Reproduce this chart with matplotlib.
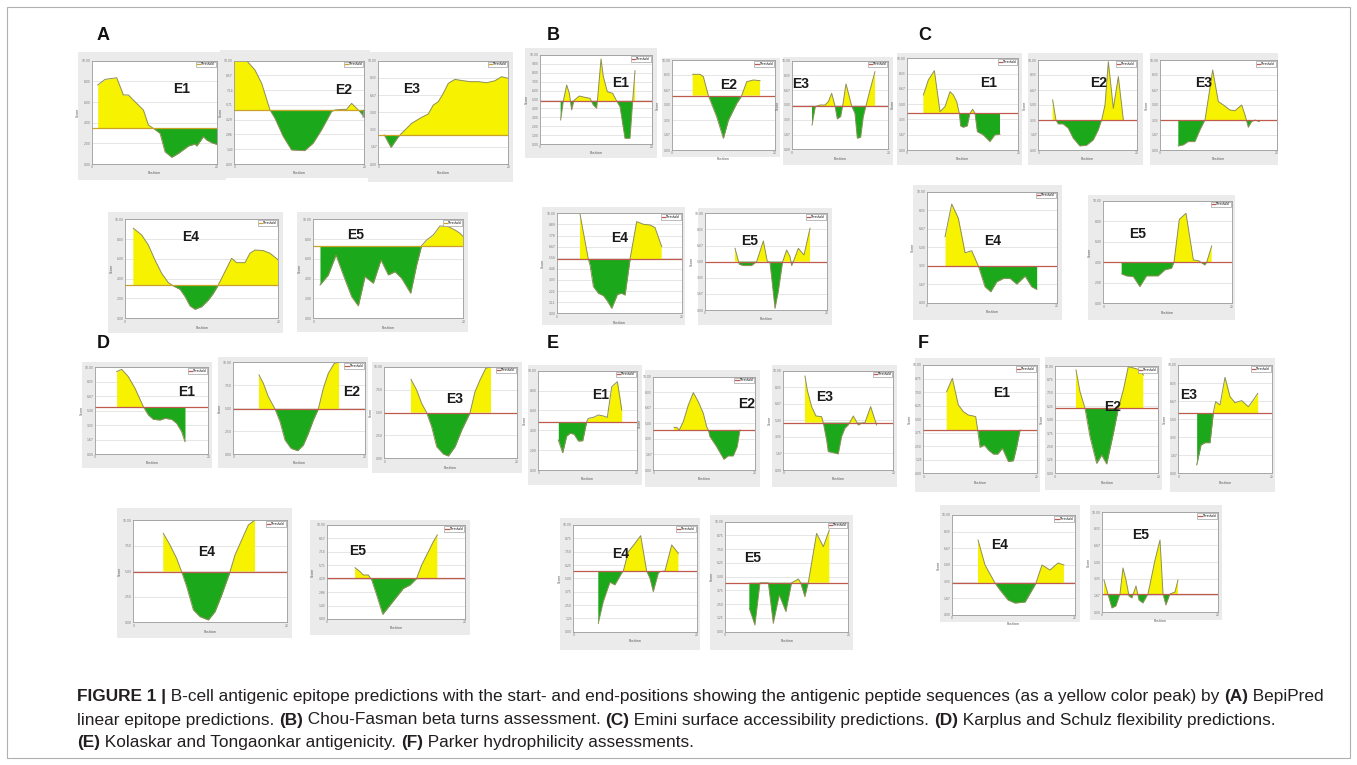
import numpy as np
import matplotlib
matplotlib.use('Agg')
import matplotlib.pyplot as plt
from matplotlib.patches import Rectangle

# Score profiles (position 0-20, score 0-10 plot units)
# A: BepiPred
a1_pos = [0.96, 2.13, 4.0, 5.07, 5.87, 6.93, 8.27, 9.07, 9.87, 10.93, 11.73, 12.8, 13.87, 15.47, 16.53, 16.8, 17.87, 18.4, 19.2, 20.0]
a1_score = [7.65, 8.19, 8.35, 6.68, 6.68, 6.03, 5.23, 3.77, 3.45, 2.97, 1.19, 0.65, 1.03, 1.74, 1.94, 1.74, 2.65, 2.32, 2.06, 1.9]
a1_thr = 3.45
a2_pos = [0, 1.9, 3.18, 4.21, 5.49, 6.26, 7.54, 8.82, 10.87, 12.15, 13.44, 14.97, 15.49, 16.77, 17.28, 18.05, 18.82, 19.33, 19.85]
a2_score = [10, 10, 9.1, 7.81, 5.23, 4.42, 2.65, 1.35, 1.29, 2.0, 3.29, 5.06, 5.23, 5.29, 5.29, 5.87, 5.39, 5.06, 4.65]
a2_thr = 5.23
a3_pos = [0.92, 1.95, 3.08, 3.85, 5.13, 6.67, 7.69, 8.46, 9.23, 10.0, 10.77, 11.79, 13.08, 14.1, 15.38, 16.67, 17.95, 18.97, 20.0]
a3_score = [2.81, 1.61, 2.65, 3.13, 3.94, 4.52, 4.84, 5.71, 6.03, 6.84, 7.81, 8.19, 8.06, 7.97, 7.97, 7.87, 8.06, 8.45, 8.29]
a3_thr = 2.81
a4_pos = [1.09, 2.17, 3.04, 3.91, 4.78, 5.65, 6.3, 7.17, 7.83, 8.48, 9.13, 10.0, 10.87, 11.52, 12.17, 13.04, 13.91, 14.57, 15.65, 16.3, 16.96, 18.04, 18.91, 20.0]
a4_score = [9.09, 8.42, 7.41, 5.89, 4.55, 3.6, 3.27, 2.93, 2.19, 1.25, 0.91, 1.18, 1.85, 2.53, 3.37, 4.71, 6.06, 5.62, 5.62, 6.57, 6.9, 6.84, 6.57, 5.89]
a4_thr = 3.37
a5_pos = [0.89, 2.0, 3.02, 4.0, 5.11, 6.0, 6.89, 8.0, 9.02, 10.0, 10.89, 11.78, 12.98, 13.78, 14.44, 15.11, 16.0, 16.89, 18.0, 18.89, 19.56, 20.0]
a5_score = [3.37, 4.38, 6.4, 4.38, 2.19, 1.25, 4.21, 3.54, 5.89, 4.38, 4.71, 4.04, 2.53, 5.39, 7.34, 7.91, 8.42, 9.33, 9.26, 8.92, 8.59, 8.25]
a5_thr = 7.34

# B: Chou-Fasman
b1_pos = [3.7, 4.18, 4.78, 5.25, 5.67, 6.09, 7.04, 8.06, 8.96, 9.55, 10.15, 10.45, 10.93, 11.34, 12.06, 13.01, 13.73, 14.33, 15.22, 16.12, 16.6, 17.01]
b1_score = [2.7, 4.83, 6.63, 5.69, 3.82, 4.9, 5.39, 5.24, 5.13, 4.38, 4.01, 6.07, 9.55, 7.57, 5.88, 5.69, 4.83, 4.19, 0.64, 0.64, 4.83, 8.24]
b1_thr = 4.83
b2_pos = [4.06, 5.48, 6.13, 7.1, 8.71, 10.0, 10.97, 12.58, 13.55, 14.52, 15.81, 17.1]
b2_score = [8.41, 8.41, 8.15, 6.04, 3.7, 1.3, 3.33, 5.19, 6.04, 7.59, 7.78, 7.7]
b2_thr = 6.04
b3_pos = [4.21, 4.9, 5.86, 6.9, 7.59, 8.28, 8.97, 9.45, 10.14, 10.55, 11.24, 11.93, 12.41, 13.1, 13.59, 14.28, 14.83, 15.38, 16.21, 17.24]
b3_score = [2.74, 4.81, 5.0, 5.0, 5.38, 6.32, 4.89, 3.42, 3.68, 4.89, 7.37, 5.94, 4.89, 4.06, 1.24, 1.35, 3.68, 4.89, 6.69, 8.76]
b3_thr = 4.89
b4_pos = [3.73, 5.07, 5.33, 5.87, 6.67, 7.47, 8.11, 8.8, 9.71, 10.4, 10.93, 11.73, 12.8, 13.87, 14.93, 15.73, 16.8]
b4_score = [9.9, 5.4, 4.83, 2.67, 2.0, 1.77, 1.23, 0.5, 1.9, 2.0, 1.83, 5.4, 9.17, 8.9, 8.83, 8.57, 6.67]
b4_thr = 5.4
b5_pos = [4.93, 5.64, 6.3, 7.67, 8.49, 9.59, 10.25, 10.68, 11.51, 12.05, 12.77, 13.42, 13.97, 14.25, 14.52, 15.34, 16.27, 17.26]
b5_score = [6.38, 4.72, 4.59, 4.59, 5.0, 7.14, 5.0, 4.93, 0.17, 1.9, 5.0, 6.21, 5.52, 4.59, 5.0, 6.38, 5.69, 8.45]
b5_thr = 5.0

# C: Emini
c1_pos = [2.99, 3.88, 4.96, 5.97, 6.87, 7.76, 8.36, 8.96, 9.43, 9.67, 10.15, 10.87, 11.34, 11.82, 12.24, 12.66, 13.73, 14.93, 15.82, 16.72]
c1_score = [6.0, 7.64, 8.65, 4.18, 4.73, 6.36, 6.0, 5.27, 4.0, 2.62, 2.47, 2.62, 4.0, 4.44, 4.0, 2.0, 1.64, 0.91, 1.64, 1.71]
c1_thr = 4.0
c2_pos = [2.92, 3.59, 4.07, 5.08, 6.1, 7.12, 8.47, 9.83, 11.19, 12.2, 12.88, 13.56, 14.24, 15.25, 16.27, 17.29]
c2_score = [5.56, 3.33, 2.89, 2.89, 2.41, 1.3, 0.44, 0.52, 1.11, 2.22, 3.33, 5.0, 9.81, 4.63, 8.15, 3.33]
c2_thr = 3.33
c3_pos = [3.14, 4.0, 4.86, 6.0, 6.86, 7.71, 8.29, 9.03, 10.0, 10.86, 12.0, 12.86, 14.0, 14.57, 15.14, 15.71, 16.29, 17.03]
c3_score = [0.44, 0.56, 0.93, 0.93, 2.22, 3.33, 5.74, 8.89, 5.37, 5.0, 4.44, 4.37, 5.0, 3.89, 2.52, 3.15, 3.33, 3.15]
c3_thr = 3.33
c4_pos = [2.82, 3.85, 4.87, 5.9, 6.92, 7.95, 8.97, 9.85, 10.77, 11.79, 12.82, 13.85, 15.13, 16.15, 16.92]
c4_score = [5.95, 8.89, 7.6, 4.5, 4.68, 3.3, 1.44, 0.99, 1.89, 2.19, 2.19, 1.68, 2.4, 1.44, 1.2]
c4_thr = 3.33
c5_pos = [2.86, 3.64, 4.68, 5.71, 6.75, 8.57, 9.61, 10.65, 11.01, 11.84, 12.88, 14.03, 14.81, 15.84, 16.1, 16.88]
c5_score = [2.86, 2.66, 2.6, 1.62, 2.66, 2.66, 3.25, 3.41, 3.99, 8.18, 8.77, 4.22, 4.16, 3.73, 3.99, 5.58]
c5_thr = 3.99

# D: Karplus & Schulz
d1_pos = [3.82, 4.71, 5.88, 7.06, 8.53, 9.41, 10.29, 11.47, 12.35, 13.53, 14.41, 15.29, 15.88]
d1_score = [9.5, 9.77, 8.92, 7.58, 5.46, 4.5, 4.0, 3.92, 4.12, 4.0, 3.54, 2.58, 1.42]
d1_thr = 5.46
d2_pos = [3.9, 4.56, 5.32, 6.33, 7.09, 7.85, 8.76, 9.77, 10.63, 11.39, 12.15, 12.91, 13.67, 14.43, 15.34, 16.05]
d2_score = [8.62, 7.71, 6.25, 4.91, 3.53, 1.53, 0.62, 0.36, 0.98, 2.25, 3.71, 4.91, 7.16, 8.8, 9.89, 10.0]
d2_thr = 4.91
d3_pos = [4.03, 4.89, 5.64, 6.4, 7.15, 7.91, 8.92, 9.67, 10.68, 11.69, 12.95, 13.7, 14.46, 15.32, 16.12]
d3_score = [8.62, 7.45, 6.0, 4.98, 3.45, 1.27, 0.47, 0.25, 1.27, 3.09, 4.98, 7.27, 8.55, 9.82, 10.0]
d3_thr = 4.98
d4_pos = [3.91, 4.78, 5.65, 6.3, 6.96, 7.83, 8.7, 9.78, 10.65, 11.52, 12.61, 13.26, 14.13, 15.0, 15.87]
d4_score = [8.7, 7.56, 6.25, 4.95, 3.49, 1.21, 0.55, 0.23, 1.04, 2.67, 4.95, 6.58, 8.05, 9.51, 10.0]
d4_thr = 4.95
d5_pos = [4.1, 4.82, 5.3, 6.02, 6.51, 7.23, 8.1, 9.16, 10.12, 11.08, 12.05, 13.01, 13.73, 14.7, 15.42, 16.0]
d5_score = [5.46, 5.04, 4.68, 4.68, 4.15, 2.55, 0.5, 1.49, 2.38, 3.26, 3.62, 4.33, 5.74, 7.16, 8.23, 8.94]
d5_thr = 4.33

# E: Kolaskar & Tongaonkar
e1_pos = [4.07, 4.95, 5.76, 6.44, 7.25, 8.14, 9.02, 9.83, 10.17, 11.19, 12.2, 13.22, 14.03, 14.92, 16.07, 16.61, 16.95]
e1_score = [3.02, 1.74, 3.42, 3.69, 3.62, 2.92, 2.95, 4.87, 5.2, 5.3, 5.54, 5.44, 5.3, 8.39, 8.89, 7.21, 6.04]
e1_thr = 4.87
e2_pos = [4.07, 4.59, 5.11, 5.9, 6.89, 7.87, 8.85, 9.84, 10.49, 10.82, 11.15, 12.46, 13.9, 14.75, 15.74, 16.52, 17.05]
e2_score = [4.57, 4.57, 4.29, 5.18, 6.96, 8.29, 7.32, 6.07, 4.64, 4.29, 3.57, 2.5, 1.14, 1.5, 1.5, 2.5, 4.29]
e2_thr = 4.29
e3_pos = [3.94, 4.36, 5.15, 5.94, 6.97, 7.27, 7.88, 8.18, 9.09, 10.0, 10.61, 11.21, 11.82, 12.73, 13.64, 14.24, 14.85, 15.88, 16.97]
e3_score = [9.46, 8.05, 6.38, 5.44, 5.37, 4.77, 3.02, 1.85, 1.74, 1.61, 3.36, 4.19, 4.53, 5.44, 4.53, 4.7, 4.77, 6.38, 4.53]
e3_thr = 4.77
e4_pos = [4.05, 4.86, 5.95, 6.76, 7.84, 8.11, 8.92, 10.0, 10.92, 11.89, 12.43, 12.97, 13.78, 14.05, 14.86, 15.95, 17.03]
e4_score = [0.78, 2.81, 4.63, 4.38, 5.47, 5.69, 7.5, 8.28, 9.0, 5.69, 5.0, 3.75, 5.47, 5.63, 5.69, 8.13, 7.34]
e4_thr = 5.69
e5_pos = [3.95, 4.86, 5.68, 6.49, 7.03, 7.84, 8.81, 9.89, 10.81, 11.35, 11.89, 12.27, 12.97, 13.51, 14.86, 15.95, 16.92]
e5_score = [2.12, 0.61, 4.45, 4.45, 4.45, 0.76, 3.33, 1.82, 4.45, 4.61, 4.79, 4.45, 3.18, 4.45, 8.94, 7.73, 9.24]
e5_thr = 4.45

# F: Parker
f1_pos = [4.12, 5.12, 6.18, 7.06, 7.94, 8.82, 9.24, 9.59, 10.0, 10.76, 11.47, 12.35, 13.12, 13.94, 15.0, 15.88, 16.47, 17.06]
f1_score = [7.54, 8.77, 6.31, 5.69, 5.38, 5.29, 5.23, 4.0, 2.4, 2.62, 2.15, 1.78, 1.78, 2.31, 1.08, 1.17, 2.46, 4.0]
f1_thr = 4.0
f2_pos = [4.06, 4.84, 5.81, 6.77, 8.06, 9.03, 10.0, 11.29, 12.26, 13.23, 14.19, 15.48, 16.45, 17.1]
f2_score = [9.63, 7.61, 6.06, 3.42, 0.93, 1.71, 0.87, 3.73, 6.06, 7.76, 9.94, 9.78, 9.63, 9.16]
f2_thr = 6.06
f3_pos = [3.93, 4.86, 5.71, 6.79, 7.5, 8.0, 8.93, 10.0, 11.07, 12.14, 13.57, 15.0, 16.07, 17.0]
f3_score = [0.77, 2.62, 2.83, 2.83, 5.6, 6.62, 6.31, 8.86, 7.08, 6.52, 6.71, 6.15, 6.77, 7.38]
f3_thr = 5.6
f4_pos = [4.23, 5.37, 6.99, 7.8, 9.11, 10.24, 11.87, 13.0, 13.66, 14.63, 15.93, 17.24, 18.2]
f4_score = [7.5, 5.0, 3.2, 2.5, 1.5, 1.2, 1.3, 2.5, 3.2, 5.0, 4.5, 5.2, 5.0]
f4_thr = 3.2
f5_pos = [0.34, 1.03, 1.72, 2.41, 3.1, 3.62, 4.14, 4.66, 5.17, 5.86, 6.38, 7.07, 7.93, 9.14, 10.0, 10.52, 11.03, 11.72, 12.59, 13.1]
f5_score = [3.2, 1.8, 0.4, 0.6, 1.8, 4.4, 3.2, 1.6, 1.4, 2.6, 1.2, 0.9, 1.8, 5.2, 7.2, 1.8, 0.7, 1.8, 2.0, 3.2]
f5_thr = 1.8

panel_groups = ['A', 'B', 'C', 'D', 'E', 'F']
panel_labels = ['E1', 'E2', 'E3', 'E4', 'E5']
profiles = [
    (a1_pos, a1_score, a1_thr), (a2_pos, a2_score, a2_thr), (a3_pos, a3_score, a3_thr),
    (a4_pos, a4_score, a4_thr), (a5_pos, a5_score, a5_thr),
    (b1_pos, b1_score, b1_thr), (b2_pos, b2_score, b2_thr), (b3_pos, b3_score, b3_thr),
    (b4_pos, b4_score, b4_thr), (b5_pos, b5_score, b5_thr),
    (c1_pos, c1_score, c1_thr), (c2_pos, c2_score, c2_thr), (c3_pos, c3_score, c3_thr),
    (c4_pos, c4_score, c4_thr), (c5_pos, c5_score, c5_thr),
    (d1_pos, d1_score, d1_thr), (d2_pos, d2_score, d2_thr), (d3_pos, d3_score, d3_thr),
    (d4_pos, d4_score, d4_thr), (d5_pos, d5_score, d5_thr),
    (e1_pos, e1_score, e1_thr), (e2_pos, e2_score, e2_thr), (e3_pos, e3_score, e3_thr),
    (e4_pos, e4_score, e4_thr), (e5_pos, e5_score, e5_thr),
    (f1_pos, f1_score, f1_thr), (f2_pos, f2_score, f2_thr), (f3_pos, f3_score, f3_thr),
    (f4_pos, f4_score, f4_thr), (f5_pos, f5_score, f5_thr),
]

# layout in pixels: grey card (x, y, w, h) and plot box (left, top, right, bottom)
cards = [
    (78, 52, 148, 128), (220, 50, 150, 128), (368, 52, 145, 130), (108, 212, 175, 121), (297, 212, 171, 120),
    (525, 48, 132, 110), (662, 58, 118, 99), (783, 57, 110, 108), (542, 207, 143, 118), (698, 208, 134, 117),
    (897, 53, 125, 112), (1028, 53, 115, 112), (1150, 53, 128, 112), (913, 185, 149, 135), (1088, 195, 147, 125),
    (82, 362, 130, 106), (218, 357, 150, 111), (372, 362, 150, 111), (117, 508, 175, 130), (310, 520, 160, 115),
    (528, 365, 114, 120), (645, 370, 115, 117), (772, 365, 125, 122), (560, 518, 140, 132), (710, 515, 143, 135),
    (915, 358, 125, 134), (1045, 357, 117, 133), (1170, 358, 105, 134), (940, 505, 140, 117), (1090, 505, 132, 115),
]
boxes = [
    (91.7, 60.7, 216.7, 164), (234.3, 60.7, 364.3, 164), (378.3, 60.7, 508.3, 164), (125, 219.3, 278.3, 318.3), (313.3, 219.3, 463.3, 318.3),
    (540, 55, 651.7, 144), (671.7, 60, 775, 150), (791.7, 60.7, 888.3, 149.3), (556.7, 213.3, 681.7, 313.3), (705, 213.3, 826.7, 310),
    (906.7, 58.3, 1018.3, 150), (1038.3, 60, 1136.7, 150), (1160, 60, 1276.7, 150), (926.7, 191.7, 1056.7, 302.7), (1103.3, 200.7, 1231.7, 303.3),
    (95, 367.3, 208.3, 454), (233.3, 362.3, 365, 454), (384.3, 366.7, 516.7, 458.3), (133.3, 520, 286.7, 622.3), (326.7, 525, 465, 619),
    (538.3, 370.7, 636.7, 470), (653.3, 376.7, 755, 470), (783.3, 370.7, 893.3, 470), (573.3, 525, 696.7, 631.7), (725, 521.7, 848.3, 631.7),
    (923.3, 365, 1036.7, 473.3), (1055, 366, 1158.3, 473.3), (1178.3, 365, 1271.7, 473.3), (952, 515, 1075, 615), (1102, 512, 1218, 612),
]
label_xy = [
    (0.72, 0.73), (0.84, 0.72), (0.26, 0.73), (0.43, 0.82), (0.28, 0.84),
    (0.72, 0.68), (0.55, 0.72), (0.09, 0.74), (0.50, 0.75), (0.37, 0.71),
    (0.73, 0.73), (0.61, 0.74), (0.37, 0.74), (0.51, 0.56), (0.27, 0.68),
    (0.81, 0.72), (0.90, 0.68), (0.53, 0.65), (0.48, 0.69), (0.22, 0.72),
    (0.63, 0.76), (0.92, 0.71), (0.38, 0.74), (0.38, 0.73), (0.22, 0.67),
    (0.69, 0.74), (0.56, 0.62), (0.11, 0.72), (0.39, 0.70), (0.33, 0.77),
]
grid_n = [5, 7, 6, 5, 5, 10, 6, 6, 9, 6, 6, 6, 6, 6, 5, 6, 4, 4, 4, 7, 5, 6, 6, 8, 8, 8, 8, 6, 6, 6]
group_xy = {'A': (97, 35), 'B': (547, 35), 'C': (918, 35), 'D': (97, 344), 'E': (547, 344), 'F': (918, 344)}

W, H = 1357, 765
YELLOW = '#f6f200'
GREEN = '#1ba81b'
CURVE = '#8e8e58'
THR_RED = '#bf5a4e'
THR_GOLD = '#c9a227'
SANS = ['Liberation Sans', 'DejaVu Sans']

fig = plt.figure(figsize=(W / 100, H / 100), dpi=100)
fig.patch.set_facecolor('white')

# outer frame of the figure
fig.add_artist(Rectangle((7 / W, 1 - 758 / H), 1343 / W, 751 / H, transform=fig.transFigure,
                         facecolor='none', edgecolor='#b0b0b0', lw=0.8))

for i, (pos, score, thr) in enumerate(profiles):
    grp = panel_groups[i // 5]
    lab = panel_labels[i % 5]
    cx, cy, cw, ch = cards[i]
    fig.add_artist(Rectangle((cx / W, 1 - (cy + ch) / H), cw / W, ch / H, transform=fig.transFigure,
                             facecolor='#ebebeb', edgecolor='none', zorder=0))
    xl, yt, xr, yb = boxes[i]
    ax = fig.add_axes([xl / W, 1 - yb / H, (xr - xl) / W, (yb - yt) / H])
    ax.set_facecolor('white')
    pos = np.array(pos)
    score = np.array(score)
    ax.fill_between(pos, score, thr, where=score >= thr, interpolate=True, color=YELLOW, lw=0)
    ax.fill_between(pos, score, thr, where=score <= thr, interpolate=True, color=GREEN, lw=0)
    ax.plot(pos, score, color=CURVE, lw=0.7)
    tcol = THR_GOLD if grp == 'A' else THR_RED
    tl = ax.axhline(thr, color=tcol, lw=0.9)
    ax.set_xlim(0, 20)
    ax.set_ylim(0, 10)
    ticks = np.linspace(0, 10, grid_n[i] + 1)
    ax.set_yticks(ticks)
    ax.set_yticklabels(['%.2f' % t for t in ticks])
    ax.set_xticks([0, 20])
    ax.grid(axis='y', color='#dcdcdc', lw=0.5)
    ax.set_axisbelow(True)
    ax.tick_params(length=0, pad=1, labelsize=2.2, colors='#777777')
    for s in ax.spines.values():
        s.set_color('#9a9a9a')
        s.set_linewidth(0.6)
    ax.set_ylabel('Score', fontsize=2.4, labelpad=1, color='#555555')
    ax.set_xlabel('Position', fontsize=2.4, labelpad=1.5, color='#555555')
    leg = ax.legend([tl], ['Threshold'], loc='upper right', fontsize=2.0, handlelength=1.2,
                    fancybox=False, framealpha=1, borderpad=0.3, handletextpad=0.4, borderaxespad=0.3)
    leg.get_frame().set_edgecolor('#8a8a8a')
    leg.get_frame().set_linewidth(0.4)
    lx, ly = label_xy[i]
    ax.text(lx, ly, lab, transform=ax.transAxes, ha='center', va='center', fontsize=10,
            fontweight='bold', family=SANS, color='#1a1a1a')

for g, (gx, gy) in group_xy.items():
    fig.text(gx / W, 1 - gy / H, g, fontsize=13, fontweight='bold', family=SANS,
             ha='left', va='center', color='#111111')

# caption, written piece by piece so the bold parts sit inline
caption = [
    [('FIGURE 1 |', True), (' B-cell antigenic epitope predictions with the start- and end-positions showing the antigenic peptide sequences (as a yellow color peak) by ', False), ('(A)', True), (' BepiPred', False)],
    [('linear epitope predictions. ', False), ('(B)', True), (' Chou-Fasman beta turns assessment. ', False), ('(C)', True),
     (' Emini surface accessibility predictions. ', False), ('(D)', True), (' Karplus and Schulz flexibility predictions.', False)],
    [('(E)', True), (' Kolaskar and Tongaonkar antigenicity. ', False), ('(F)', True), (' Parker hydrophilicity assessments.', False)],
]
caption_y = [697, 720, 742]
renderer = fig.canvas.get_renderer()


def write_line(segs, y, size):
    x = 77.0
    for txt, bold in segs:
        t = fig.text(x / W, 1 - y / H, txt, fontsize=size, fontweight='bold' if bold else 'normal',
                     family=SANS, ha='left', va='center', color='#231f20')
        x = t.get_window_extent(renderer).x1
    return x


size = 10.0
probe = write_line(caption[0], -100, size)
size = size * (1327 - 77) / (probe - 77)
for t in list(fig.texts):
    if t.get_position()[1] > 1:
        t.remove()
for segs, y in zip(caption, caption_y):
    write_line(segs, y, size)

fig.savefig('out.png', dpi=100)
